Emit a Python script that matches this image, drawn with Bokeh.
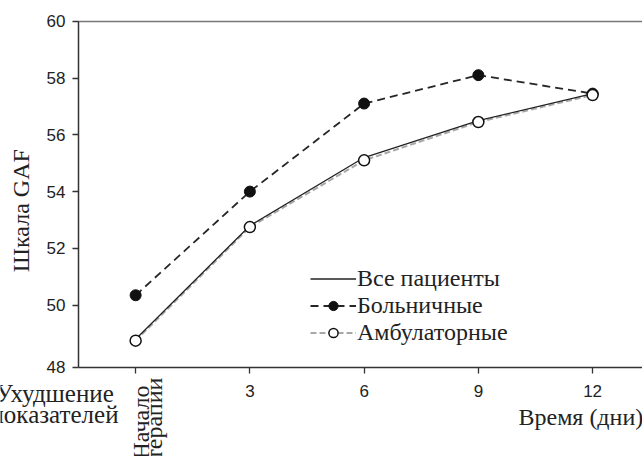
import math
from bokeh.plotting import figure
from bokeh.models import Label, Legend, LegendItem, FixedTicker, Range1d, LinearAxis
from bokeh.embed import file_html
from bokeh.resources import INLINE

# ---- data ----
days = [0, 3, 6, 9, 12]
all_patients = [48.8, 52.8, 55.2, 56.5, 57.45]
hospital = [50.35, 54.0, 57.1, 58.1, 57.45]
outpatient = [48.75, 52.75, 55.1, 56.45, 57.4]
x_ticks = [0, 3, 6, 9, 12]
x_tick_labels = ["", "3", "6", "9", "12"]
y_tick_labels = ["48", "50", "52", "54", "56", "58", "60"]

# axis extents (data units)
y_bottom = 47.82
y_top = 60
x_left = -1.5
x_right = 13.31

W, H = 642, 456
px_per_day = 38.08
px_per_unit = 28.4
# the frame fills the whole page; axes are drawn at fixed data positions
x_start = x_left - 78 / px_per_day
y_end = y_top + 20.7 / px_per_unit
y_start = y_top - (H - 20.7) / px_per_unit

p = figure(width=W, height=H,
           x_range=Range1d(x_start, x_right), y_range=Range1d(y_start, y_end),
           output_backend="svg", toolbar_location=None,
           min_border_left=0, min_border_right=0, min_border_top=0, min_border_bottom=0)
p.title.visible = False
p.xgrid.visible = False
p.ygrid.visible = False
p.outline_line_color = None
p.background_fill_color = "white"
p.border_fill_color = "white"

# axes
y_tick_pos = [y_bottom] + [float(t) for t in y_tick_labels[1:]]
p.yaxis.ticker = FixedTicker(ticks=y_tick_pos)
p.yaxis.major_label_overrides = {pos: lab for pos, lab in zip(y_tick_pos, y_tick_labels)}
p.yaxis.fixed_location = x_left
p.yaxis.bounds = (y_bottom, y_top)
p.xaxis.ticker = FixedTicker(ticks=x_ticks)
p.xaxis.major_label_overrides = {t: lab for t, lab in zip(x_ticks, x_tick_labels)}
p.xaxis.fixed_location = y_bottom
p.xaxis.bounds = (x_left, x_right)
for ax in (p.xaxis[0], p.yaxis[0]):
    ax.axis_line_color = "#333333"
    ax.axis_line_width = 1.5
    ax.major_tick_line_color = "#333333"
    ax.major_tick_line_width = 1.3
    ax.major_tick_in = 0
    ax.major_tick_out = 6
    ax.minor_tick_line_color = None
    ax.major_label_text_font = "Liberation Sans"
    ax.major_label_text_font_size = "17px"
    ax.major_label_text_color = "#222222"
p.yaxis.major_label_standoff = 7
p.xaxis.major_label_standoff = 12

# top border line as a bare axis
top_axis = LinearAxis(fixed_location=y_top, bounds=(x_left, x_right), ticker=FixedTicker(ticks=[]),
                      axis_line_color="#777777", axis_line_width=1.5,
                      major_tick_line_color=None, minor_tick_line_color=None)
p.add_layout(top_axis, "above")

# series
r_out = p.line(days, outpatient, line_color="#a8a8a8", line_width=2, line_dash="6 3")
r_all = p.line(days, all_patients, line_color="#222222", line_width=1.3)
r_hosp = p.line(days, hospital, line_color="#262626", line_width=1.8, line_dash="8 5")
m_hosp = p.scatter(days, hospital, size=11, marker="circle", fill_color="#111111", line_color="#111111")
m_out = p.scatter(days, outpatient, size=11, marker="circle", fill_color="white", line_color="#111111", line_width=1.5)

serif = "Liberation Serif"
legend = Legend(items=[
    LegendItem(label="Все пациенты", renderers=[r_all]),
    LegendItem(label="Больничные", renderers=[r_hosp, m_hosp]),
    LegendItem(label="Амбулаторные", renderers=[r_out, m_out]),
], location=(310, 110), border_line_color=None, background_fill_alpha=0,
    padding=0, margin=0, spacing=-4, glyph_width=46, glyph_height=23, label_height=23,
    label_standoff=1, label_text_font=serif, label_text_font_size="24px",
    label_text_color="#222222")
p.add_layout(legend)

def lab(text, x, y, size="24px", **kw):
    p.add_layout(Label(x=x, y=y, text=text, text_font=serif, text_font_size=size,
                       text_color="#222222", **kw))

lab("Шкала GAF", -3.0, 53.33, angle=math.pi / 2, text_align="center", text_baseline="middle")
lab("Ухудшение", -2.13, 46.89, size="25px", text_align="center", text_baseline="middle")
lab("показателей", -2.13, 46.15, size="25px", text_align="center", text_baseline="middle")
lab("Начало", 0.128, 47.17, angle=math.pi / 2, text_align="right", text_baseline="alphabetic")
lab("терапии", 0.47, 47.45, angle=math.pi / 2, text_align="right", text_baseline="alphabetic")
lab("Время (дни)", 13.33, 46.05, text_align="right", text_baseline="middle")

open("out.html", "w").write(file_html(p, INLINE))
